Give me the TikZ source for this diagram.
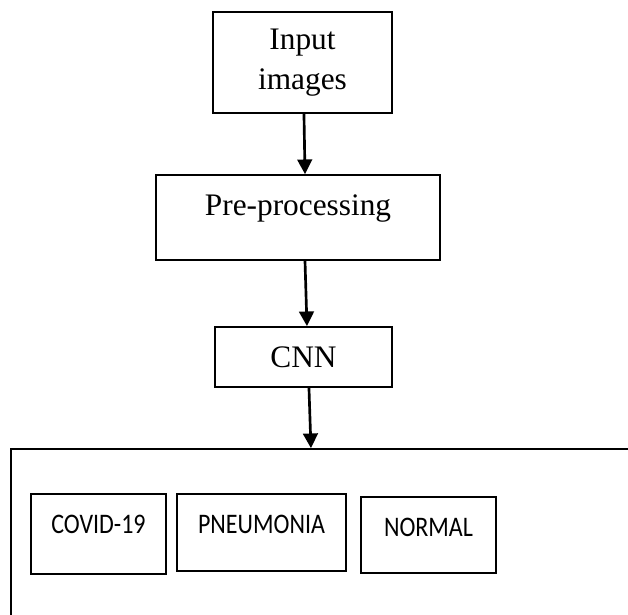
\documentclass[tikz,border=0pt]{standalone}
\usepackage{fontspec}
\setmainfont{Liberation Serif}
\newfontfamily\calib{Carlito}
\usetikzlibrary{arrows.meta}
\newcommand{\tallt}[1]{\scalebox{1}[1.18]{#1}}
\begin{document}
\begin{tikzpicture}[x=0.75pt,y=-0.75pt,
  box/.style={draw=black,line width=1.3pt,rectangle,inner sep=0pt,align=center},
  serif/.style={font=\fontsize{23.5}{30}\selectfont},
  calibri/.style={font=\calib\fontsize{18}{21}\selectfont},
  arr/.style={line width=2pt,-{Triangle[length=11pt,width=11pt]}}]
\path[use as bounding box] (0,0) rectangle (628,614);
\node[box,serif,minimum width=134.25pt,minimum height=75.75pt] (in) at (302.5,62.5) {Input\\images};
\node[box,serif,minimum width=213pt,minimum height=63.75pt,text height=16pt,text depth=19pt] (pre) at (298,217.5) {Pre-processing};
\node[box,serif,minimum width=132.75pt,minimum height=45pt,text height=16pt,text depth=1pt] (cnn) at (303.5,357) {CNN};
\begin{scope}
\clip (0,0) rectangle (628,614);
\node[box,minimum width=501.75pt,minimum height=173.25pt] (out) at (345.5,564.5) {};
\end{scope}
\node[box,calibri,minimum width=101.25pt,minimum height=60pt,text height=12.6pt,text depth=13.9pt] (covid) at (98.5,534) {\tallt{COVID-19}};
\node[box,calibri,minimum width=126.75pt,minimum height=57.75pt,text height=12.6pt,text depth=11.7pt] (pneu) at (261.5,532.5) {\tallt{PNEUMONIA}};
\node[box,calibri,minimum width=101.25pt,minimum height=57pt,text height=12.6pt,text depth=10.9pt] (norm) at (428.5,535) {\tallt{NORMAL}};
\draw[arr] ([xshift=1.1pt]in.south) -- ([xshift=5.25pt]pre.north);
\draw[arr] ([xshift=5.25pt]pre.south) -- ([xshift=2.6pt]cnn.north);
\draw[arr] ([xshift=4.1pt]cnn.south) -- ([xshift=-25.9pt]out.north);
\end{tikzpicture}
\end{document}
